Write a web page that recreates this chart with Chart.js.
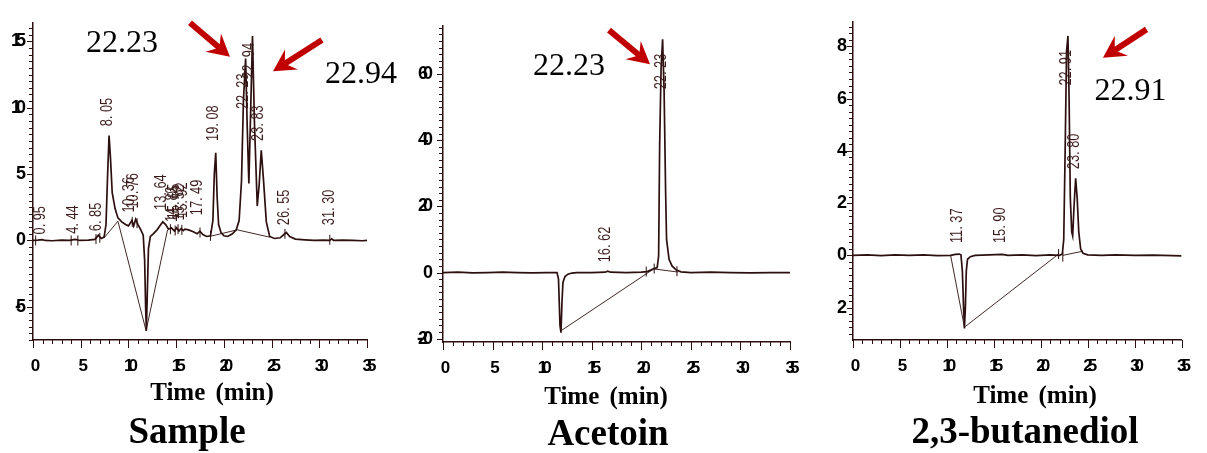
<!DOCTYPE html>
<html>
<head>
<meta charset="utf-8">
<title>GC chromatograms</title>
<script src="https://cdn.jsdelivr.net/npm/chart.js@4.4.1/dist/chart.umd.min.js"></script>
<style>
  body { margin: 0; background: #fff; }
  #wrap { position: relative; width: 1207px; height: 453px; overflow: hidden; }
  canvas { position: absolute; top: 0; }
  .axis-title, .panel-name {
    position: absolute; transform: translateX(-50%); white-space: nowrap;
    font-family: 'Liberation Serif', 'Times New Roman', serif; font-weight: bold;
    color: #000; line-height: 1;
  }
  .axis-title { font-size: 25px; word-spacing: 4px; }
  .panel-name { font-size: 37px; }
</style>
</head>
<body>
<div id="wrap">
  <canvas id="sampleChart" width="410" height="453" style="left:0"></canvas>
  <canvas id="acetoinChart" width="410" height="453" style="left:410px"></canvas>
  <canvas id="butanediolChart" width="387" height="453" style="left:820px"></canvas>

  <div class="axis-title" style="left:212px; top:379px">Time (min)</div>
  <div class="axis-title" style="left:606px; top:383px">Time (min)</div>
  <div class="axis-title" style="left:1035px; top:382px">Time (min)</div>

  <div class="panel-name" style="left:187px; top:412px">Sample</div>
  <div class="panel-name" style="left:608px; top:414px">Acetoin</div>
  <div class="panel-name" style="left:1025px; top:412px">2,3-butanediol</div>
</div>
<script>
const timeTicks = [0, 5, 10, 15, 20, 25, 30, 35];

// --- Sample ---
const sampleTime = [
  0, 0.5, 0.95, 1.3, 2.0, 3.0, 3.8, 4.44, 4.9, 5.8,
  6.5, 6.85, 7.15, 7.45, 7.65, 7.82, 7.97, 8.12, 8.3, 8.6,
  8.9, 9.3, 9.7, 10.0, 10.36, 10.55, 10.76, 11.0, 11.3, 11.55,
  11.7, 11.8, 11.88, 11.97, 12.1, 12.3, 12.6, 13.0, 13.3, 13.6,
  13.9, 14.2, 14.5, 14.83, 15.05, 15.3, 15.52, 15.75, 15.92, 16.3,
  16.8, 17.2, 17.49, 17.8, 18.2, 18.6, 18.85, 19.0, 19.15, 19.3,
  19.45, 19.7, 20.0, 20.4, 20.9, 21.3, 21.6, 21.85, 22.05, 22.28,
  22.45, 22.62, 22.8, 23.0, 23.2, 23.5, 23.7, 23.92, 24.15, 24.45,
  24.8, 25.3, 25.9, 26.3, 26.55, 26.9, 27.5, 28.5, 29.5, 30.5,
  31.1, 31.3, 31.5, 32.5, 33.5, 34.5, 35
];
const sampleSignal = [
  0, 0.02, 0.06, 0, -0.02, 0.02, 0, 0.08, 0, 0.02,
  0.08, 0.4, 0.15, 0.25, 1.2, 5.0, 7.9, 6.2, 3.6, 2.4,
  1.7, 1.4, 1.2, 1.1, 1.5, 1.1, 1.6, 1.2, 0.8, 0.4,
  -1.5, -5.0, -6.8, -4.2, -0.6, 0.3, 0.5, 0.8, 1.1, 1.4,
  1.2, 0.85, 0.95, 0.7, 0.95, 0.7, 0.9, 0.75, 0.85, 0.8,
  0.65, 0.5, 0.7, 0.45, 0.3, 0.35, 1.5, 5.0, 6.6, 3.2,
  1.2, 0.6, 0.35, 0.3, 0.5, 0.8, 1.5, 4.5, 10.5, 13.7,
  8.5, 4.3, 9.5, 15.4, 9.0, 2.6, 4.2, 6.8, 4.6, 1.4,
  0.3, 0.15, 0.2, 0.45, 0.6, 0.3, 0.1, 0.05, 0, 0.02,
  0, 0.12, 0, 0.02, 0, -0.02, 0
];
const sampleBaseTime   = [7.45, 8.9, 11.85, 14.1, 16, 18.5, 21.4, 24.8];
const sampleBaseSignal = [0.2, 1.45, -6.8, 0.8, null, 0.3, 0.8, 0.25];
const sampleMarkTime   = [0.28, 4.0, 4.7, 6.6, 7.0, 10.4, 10.9, 14.4, 14.9, 15.2, 15.6, 17.5, 18.6, 26.4, 31.1];
const sampleMarkSignal = [0, 0, 0, 0.1, 0.2, 1.4, 1.3, 0.85, 0.75, 0.85, 0.8, 0.6, 0.35, 0.5, 0.05];
const samplePeakTimes  = [0.95, 4.44, 6.85, 8.05, 10.36, 10.76, 13.64, 14.83, 15.05, 15.52, 15.92, 17.49, 19.08, 22.23, 22.94, 23.83, 26.55, 31.30];
const samplePeakLabelAt = [0.45, 0.5, 0.7, 8.6, 2.1, 2.4, 2.3, 1.4, 1.6, 1.5, 1.7, 1.9, 7.5, 9.9, 12.2, 7.5, 1.15, 1.15];
const sampleYTicks  = [-5, 0, 5, 10, 15];
const sampleYLabels = ['-5', '0', '5', '10', '15'];

// --- Acetoin ---
const acetoinTime = [
  0, 1.5, 3, 4.5, 6, 7.5, 9, 10.5,
  11.5, 11.65, 11.8, 11.9, 12.0, 12.1, 12.3, 12.6, 13.0, 13.5,
  15, 16.35, 16.62, 16.9, 18.5, 20, 20.6, 21.0, 21.3, 21.6,
  21.75, 21.85, 22.0, 22.15, 22.3, 22.45, 22.55, 22.8, 23.1, 23.5,
  24.0, 25, 27, 29, 31, 33, 35
];
const acetoinSignal = [
  0, 0.1, -0.1, 0, 0.1, 0, -0.1, 0,
  0, -2, -16, -18.2, -9, -3, -1.2, -0.5, -0.15, 0,
  0, 0.1, 0.4, 0.1, 0, 0.1, 0.3, 0.8, 1.2, 1.5,
  5, 38, 62, 70.5, 55, 25, 10, 4, 2, 0.8,
  0.2, 0, 0.1, 0, -0.1, 0, 0
];
const acetoinBaseTime   = [11.9, 21.25, 23.7];
const acetoinBaseSignal = [-17.6, 1.1, 0.15];
const acetoinMarkTime   = [20.5, 21.3, 23.6];
const acetoinMarkSignal = [0.3, 1.2, 0.4];
const acetoinPeakTimes  = [16.62, 22.23];
const acetoinPeakLabelAt = [3.1, 55.4];
const acetoinYTicks  = [-20, 0, 20, 40, 60];
const acetoinYLabels = ['-20', '0', '20', '40', '60'];

// --- 2,3-butanediol ---
const butanediolTime = [
  0, 1.5, 3, 4.5, 6, 7.5, 9, 10.4, 10.9, 11.3,
  11.5, 11.65, 11.78, 11.87, 11.97, 12.07, 12.2, 12.5, 13, 14.5,
  15.9, 16.5, 18, 19.5, 21, 22.0, 22.3, 22.45, 22.6, 22.75,
  22.9, 23.02, 23.15, 23.3, 23.4, 23.55, 23.72, 23.88, 24.05, 24.25,
  24.5, 25, 26.5, 28, 30, 32, 34, 35
];
const butanediolSignal = [
  0, 0.02, -0.01, 0.02, 0, 0.02, -0.01, 0, 0.04, 0.05,
  0.02, -0.6, -2.0, -2.8, -2.0, -0.6, -0.15, -0.05, 0, 0.02,
  0.04, 0, 0.02, -0.01, 0.02, 0, 0.05, 0.6, 4.0, 7.8,
  8.4, 6.0, 2.2, 0.9, 0.75, 1.9, 2.95, 2.2, 0.9, 0.25,
  0.08, 0.02, 0, 0.02, 0, 0.01, -0.01, -0.02
];
const butanediolBaseTime   = [10.4, 11.87, 21.9, 22.1, 22.35, 24.5];
const butanediolBaseSignal = [0, -2.75, 0.05, null, 0.0, 0.16];
const butanediolMarkTime   = [21.9, 22.35];
const butanediolMarkSignal = [0.05, -0.05];
const butanediolPeakTimes  = [11.37, 15.90, 22.91, 23.80];
const butanediolPeakLabelAt = [0.47, 0.47, 6.5, 3.3];
const butanediolYTicks  = [-2, 0, 2, 4, 6, 8];
const butanediolYLabels = ['2', '0', '2', '4', '6', '8'];

const INK = '#2d0f0f';
const RED = '#c00000';

const pairUp = (xs, ys) => xs.map((x, i) => ({ x: x, y: ys[i] }));

function drawArrow(ctx, x1, y1, x2, y2) {
  const len = Math.hypot(x2 - x1, y2 - y1);
  const ux = (x2 - x1) / len, uy = (y2 - y1) / len;
  const nx = -uy, ny = ux;
  const head = 22, half = 12, notch = 14;
  ctx.fillStyle = RED;
  ctx.strokeStyle = RED;
  ctx.lineWidth = 6;
  ctx.beginPath();
  ctx.moveTo(x1, y1);
  ctx.lineTo(x2 - ux * notch, y2 - uy * notch);
  ctx.stroke();
  ctx.beginPath();
  ctx.moveTo(x2, y2);
  ctx.lineTo(x2 - ux * head + nx * half, y2 - uy * head + ny * half);
  ctx.lineTo(x2 - ux * notch, y2 - uy * notch);
  ctx.lineTo(x2 - ux * head - nx * half, y2 - uy * head - ny * half);
  ctx.closePath();
  ctx.fill();
}

// minor axis ticks, retention-time labels, callouts and arrows
const chromNotes = {
  id: 'chromNotes',
  beforeDraw(chart) {
    chart.ctx.letterSpacing = '-5px';   // squeezed axis numbers
  },
  beforeDatasetsDraw(chart) {
    chart.ctx.letterSpacing = '0px';
  },
  afterDraw(chart, args, opts) {
    const { ctx, chartArea: area, scales: { x, y } } = chart;
    ctx.save();
    ctx.letterSpacing = '0px';

    ctx.strokeStyle = INK;
    ctx.lineWidth = 1;
    ctx.beginPath();
    for (let i = 0; i <= 35; i++) {
      const px = Math.round(x.getPixelForValue(i)) + 0.5;
      const len = i % 5 === 0 ? 8 : 4;
      ctx.moveTo(px, area.bottom);
      ctx.lineTo(px, area.bottom + len);
    }
    const step = opts.yMinor;
    for (let k = Math.ceil(y.min / step); k * step <= y.max; k++) {
      const v = k * step;
      const py = Math.round(y.getPixelForValue(v)) + 0.5;
      const major = opts.yTicks.some(t => Math.abs(t - v) < 1e-6);
      ctx.moveTo(area.left, py);
      ctx.lineTo(area.left - (major ? 6 : 4), py);
    }
    ctx.stroke();

    ctx.fillStyle = '#3a1a1a';
    ctx.font = '16px "Liberation Sans", Arial, sans-serif';
    ctx.textAlign = 'left';
    ctx.textBaseline = 'alphabetic';
    opts.peakTimes.forEach((t, i) => {
      const px = x.getPixelForValue(t) + 2.5;
      const py = y.getPixelForValue(opts.peakLabelAt[i]);
      ctx.save();
      ctx.translate(px, py);
      ctx.rotate(-Math.PI / 2);
      ctx.scale(0.8, 1);
      ctx.fillText(t.toFixed(2).replace('.', '. '), 0, 0);
      ctx.restore();
    });

    ctx.fillStyle = '#000';
    ctx.font = '32px "Liberation Serif", "Times New Roman", serif';
    opts.callouts.forEach(c => {
      ctx.fillText(c.text, x.getPixelForValue(c.x), y.getPixelForValue(c.y));
    });
    opts.arrows.forEach(a => {
      drawArrow(ctx, x.getPixelForValue(a[0]), y.getPixelForValue(a[1]),
                     x.getPixelForValue(a[2]), y.getPixelForValue(a[3]));
    });
    ctx.restore();
  }
};

function drawPanel(canvasId, p) {
  new Chart(document.getElementById(canvasId), {
    type: 'line',
    data: {
      datasets: [
        { data: pairUp(p.time, p.signal), borderColor: INK, borderWidth: 1.7, pointRadius: 0 },
        { data: pairUp(p.baseTime, p.baseSignal), borderColor: INK, borderWidth: 0.9, pointRadius: 0 },
        { data: pairUp(p.markTime, p.markSignal), showLine: false, pointStyle: 'line',
          pointRadius: 5, pointRotation: 90, borderColor: INK, borderWidth: 1 }
      ]
    },
    options: {
      responsive: false,
      animation: false,
      events: [],
      layout: { padding: { top: p.top, right: p.right, left: 0, bottom: 0 } },
      plugins: {
        legend: { display: false },
        tooltip: { enabled: false },
        chromNotes: {
          yMinor: p.yMinor, yTicks: p.yTicks,
          peakTimes: p.peakTimes, peakLabelAt: p.peakLabelAt,
          callouts: p.callouts, arrows: p.arrows
        }
      },
      scales: {
        x: {
          type: 'linear', min: 0, max: 35,
          afterBuildTicks: s => { s.ticks = timeTicks.map(v => ({ value: v })); },
          afterFit: s => { s.height = p.xAxisHeight; },
          grid: { display: false, drawTicks: false },
          border: { display: true, color: INK, width: 1.5 },
          ticks: { autoSkip: false, maxRotation: 0, padding: 16, color: '#000',
                   font: { family: 'Liberation Sans', weight: 'bold', size: 17 } }
        },
        y: {
          type: 'linear', min: p.yMin, max: p.yMax,
          afterBuildTicks: s => { s.ticks = p.yTicks.map(v => ({ value: v })); },
          afterFit: s => { s.width = 33; },
          grid: { display: false, drawTicks: false },
          border: { display: true, color: INK, width: 1.5 },
          ticks: { autoSkip: false, padding: p.labelGap, color: '#000',
                   font: { family: 'Liberation Sans', weight: 'bold', size: 18 },
                   callback: v => p.yLabels[p.yTicks.indexOf(v)] }
        }
      }
    },
    plugins: [chromNotes]
  });
}

drawPanel('sampleChart', {
  time: sampleTime, signal: sampleSignal,
  baseTime: sampleBaseTime, baseSignal: sampleBaseSignal,
  markTime: sampleMarkTime, markSignal: sampleMarkSignal,
  peakTimes: samplePeakTimes, peakLabelAt: samplePeakLabelAt,
  yTicks: sampleYTicks, yLabels: sampleYLabels,
  yMin: -7.5, yMax: 16.4, yMinor: 0.5,
  top: 10, right: 43, xAxisHeight: 113, labelGap: 12,
  callouts: [{ text: '22.23', x: 5.55, y: 14.2 }, { text: '22.94', x: 30.6, y: 11.9 }],
  arrows: [[16.45, 16.4, 20.64, 13.84], [30.28, 15.1, 25.15, 12.75]]
});

drawPanel('acetoinChart', {
  time: acetoinTime, signal: acetoinSignal,
  baseTime: acetoinBaseTime, baseSignal: acetoinBaseSignal,
  markTime: acetoinMarkTime, markSignal: acetoinMarkSignal,
  peakTimes: acetoinPeakTimes, peakLabelAt: acetoinPeakLabelAt,
  yTicks: acetoinYTicks, yLabels: acetoinYLabels,
  yMin: -21, yMax: 74.6, yMinor: 2,
  top: 8, right: 30, xAxisHeight: 111, labelGap: 15,
  callouts: [{ text: '22.23', x: 9.08, y: 59.7 }],
  arrows: [[16.74, 73.3, 20.88, 63.0]]
});

drawPanel('butanediolChart', {
  time: butanediolTime, signal: butanediolSignal,
  baseTime: butanediolBaseTime, baseSignal: butanediolBaseSignal,
  markTime: butanediolMarkTime, markSignal: butanediolMarkSignal,
  peakTimes: butanediolPeakTimes, peakLabelAt: butanediolPeakLabelAt,
  yTicks: butanediolYTicks, yLabels: butanediolYLabels,
  yMin: -3.24, yMax: 8.94, yMinor: 0.25,
  top: 5, right: 7, xAxisHeight: 113, labelGap: 11,
  callouts: [{ text: '22.91', x: 25.72, y: 5.96 }],
  arrows: [[31.27, 8.65, 26.63, 7.56]]
});
</script>
</body>
</html>
